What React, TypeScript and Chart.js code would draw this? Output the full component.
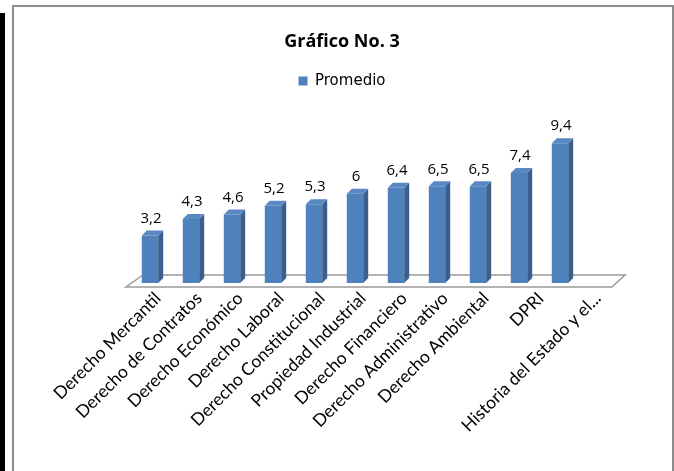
import React, { useEffect, useRef } from "react";
import { Chart, registerables } from "chart.js";

Chart.register(...registerables);

const categories = [
  "Derecho Mercantil",
  "Derecho de Contratos",
  "Derecho Económico",
  "Derecho Laboral",
  "Derecho Constitucional",
  "Propiedad Industrial",
  "Derecho Financiero",
  "Derecho Administrativo",
  "Derecho Ambiental",
  "DPRI",
  "Historia del Estado y el...",
];
const promedio = [3.2, 4.3, 4.6, 5.2, 5.3, 6, 6.4, 6.5, 6.5, 7.4, 9.4];
const seriesName = "Promedio";
const titleText = "Gráfico No. 3";

const FRONT = "#4f81bd";
const SIDE = "#3a5f8e";
const TOP = "#5a88c2";

const floorPlugin = {
  id: "floor3d",
  beforeDatasetsDraw(chart: any) {
    const { ctx } = chart;
    const xs = chart.scales.x;
    const ys = chart.scales.y;
    const base = ys.getPixelForValue(0);
    const fl = xs.left - 3.5;
    const fr = xs.right + 31.5;
    const d = 17;
    ctx.save();
    ctx.beginPath();
    ctx.moveTo(fl, base + 4);
    ctx.lineTo(fr, base + 4);
    ctx.lineTo(fr + 13, base - 8);
    ctx.lineTo(fl + d, base - 8);
    ctx.closePath();
    ctx.fillStyle = "#ffffff";
    ctx.fill();
    ctx.strokeStyle = "#9a9a9a";
    ctx.lineWidth = 1.5;
    ctx.stroke();
    ctx.restore();
  },
  afterDatasetsDraw(chart: any) {
    const { ctx } = chart;
    const meta = chart.getDatasetMeta(0);
    const dx = 5;
    const dy = 5;
    ctx.save();
    meta.data.forEach((el: any, i: number) => {
      const { x, y, base, width } = el.getProps(["x", "y", "base", "width"], true);
      const l = x - width / 2;
      const r = x + width / 2;
      ctx.beginPath();
      ctx.moveTo(r, y);
      ctx.lineTo(r + dx, y - dy);
      ctx.lineTo(r + dx, base - dy);
      ctx.lineTo(r, base);
      ctx.closePath();
      ctx.fillStyle = SIDE;
      ctx.fill();
      ctx.beginPath();
      ctx.moveTo(l, y);
      ctx.lineTo(l + dx, y - dy);
      ctx.lineTo(r + dx, y - dy);
      ctx.lineTo(r, y);
      ctx.closePath();
      ctx.fillStyle = TOP;
      ctx.fill();
      const v = promedio[i];
      ctx.fillStyle = "#000000";
      ctx.font = "15px 'Open Sans'";
      ctx.textAlign = "center";
      ctx.textBaseline = "middle";
      ctx.fillText(String(v).replace(".", ","), x + 1, y - 17);
    });
    ctx.restore();
  },
};

const tickFont = { family: "Lato", size: 17.5 };

function labelAxis(show: (i: number) => boolean, offset: number) {
  return {
    type: "category",
    position: { y: 0 },
    grid: { display: false },
    border: { display: false },
    ticks: {
      color: "#000",
      font: tickFont,
      maxRotation: 45,
      minRotation: 45,
      autoSkip: false,
      padding: -3,
      labelOffset: offset,
      callback: (_v: any, i: number) => (show(i) ? categories[i] : ""),
    },
  };
}

export default function App() {
  const ref = useRef<HTMLCanvasElement | null>(null);
  useEffect(() => {
    if (!ref.current) return;
    const chart = new Chart(ref.current, {
      type: "bar",
      data: {
        labels: categories,
        datasets: [
          {
            label: seriesName,
            data: promedio,
            backgroundColor: FRONT,
            borderWidth: 0,
            barPercentage: 0.4,
            categoryPercentage: 1,
          },
        ],
      },
      options: {
        animation: false,
        responsive: false,
        maintainAspectRatio: false,
        layout: { padding: { left: 12, right: 2, top: 0, bottom: 0 } },
        plugins: {
          title: {
            display: true,
            text: titleText,
            color: "#000",
            font: { family: "'Open Sans'", size: 18, weight: "bold" },
            padding: { top: 31, bottom: 11 },
          },
          legend: {
            display: true,
            labels: {
              color: "#000",
              boxWidth: 9,
              boxHeight: 9,
              font: { family: "'DejaVu Sans'", size: 15 },
            },
          },
          tooltip: { enabled: false },
        },
        scales: {
          x: {
            grid: { display: false },
            border: { display: false },
            ticks: {
              color: "#000",
              font: tickFont,
              maxRotation: 45,
              minRotation: 45,
              autoSkip: false,
              padding: -3,
              labelOffset: 8,
              callback: (_v: any, i: number) => (i < 9 ? categories[i] : ""),
            },
            afterFit: (s: any) => {
              s.height = 188;
            },
          },
          xDpri: labelAxis((i) => i === 9, 22),
          xLast: labelAxis((i) => i === 10, 38),
          y: {
            display: true,
            position: "left",
            min: 0,
            max: 12.4,
            grid: { display: false },
            border: { display: false },
            ticks: { display: false },
            afterFit: (s: any) => {
              s.width = 117.5;
            },
          },
          yRight: {
            type: "linear",
            display: true,
            position: "right",
            min: 0,
            max: 1,
            grid: { display: false },
            border: { display: false },
            ticks: { display: false },
            afterFit: (s: any) => {
              s.width = 91.5;
            },
          },
        },
      } as any,
      plugins: [floorPlugin],
    });
    return () => chart.destroy();
  }, []);
  return (
    <div style={{ position: "absolute", left: 0, top: 0, width: 674, height: 471, background: "#fff", overflow: "hidden" }}>
      <div style={{ position: "absolute", left: 0, top: 13, width: 5, height: 460, background: "#000" }} />
      <div
        style={{
          position: "absolute",
          left: 12,
          top: 5,
          width: 658,
          height: 480,
          border: "2px solid #8c8c8c",
        }}
      />
      <canvas ref={ref} width={674} height={471} style={{ position: "absolute", left: 0, top: 0 }} />
    </div>
  );
}
